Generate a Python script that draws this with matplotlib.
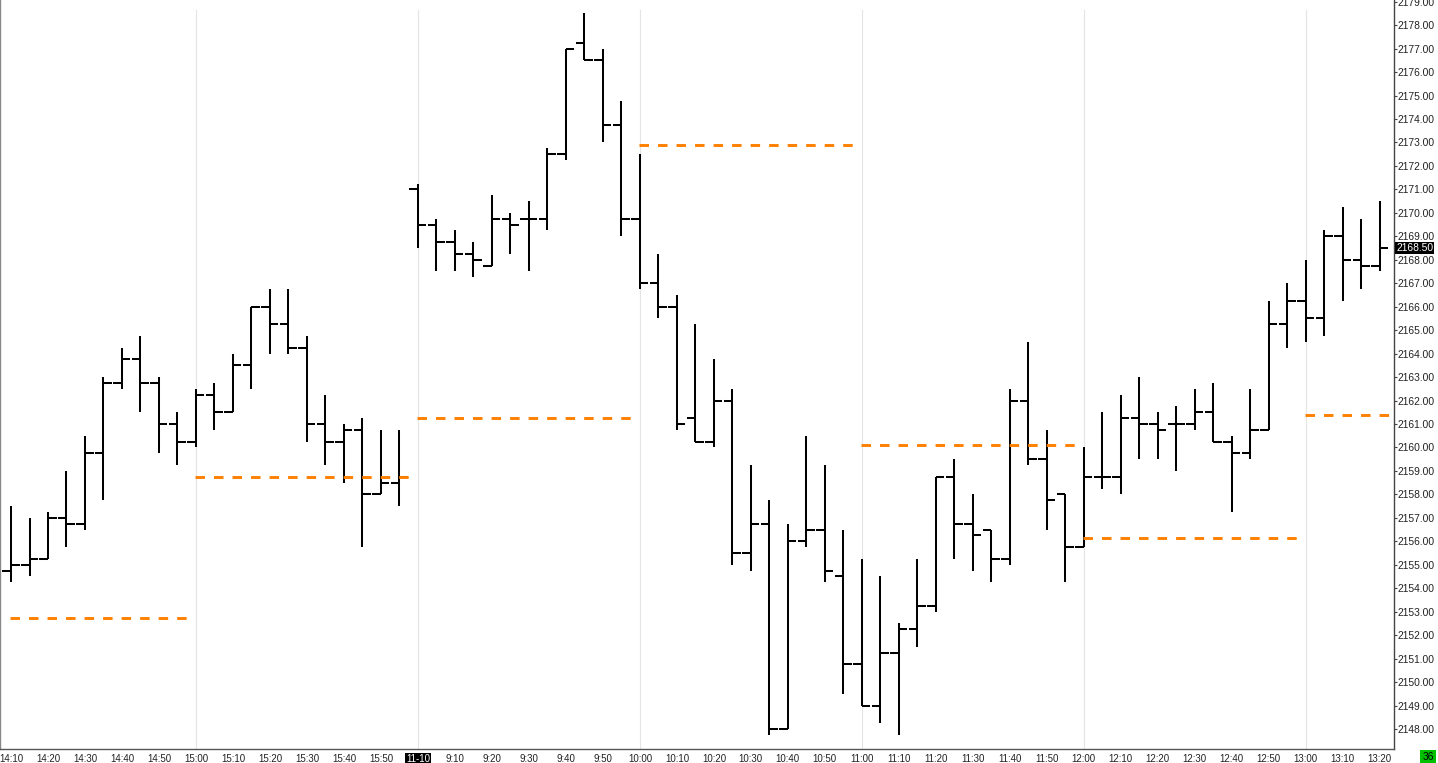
import matplotlib
matplotlib.use("Agg")
import matplotlib.pyplot as plt

plt.rcParams['font.family'] = ['Liberation Sans', 'DejaVu Sans']

# ---- data -------------------------------------------------------------
times = ["14:10", "14:15", "14:20", "14:25", "14:30", "14:35", "14:40", "14:45",
         "14:50", "14:55", "15:00", "15:05", "15:10", "15:15", "15:20", "15:25",
         "15:30", "15:35", "15:40", "15:45", "15:50", "15:55",
         "9:00", "9:05", "9:10", "9:15", "9:20", "9:25", "9:30", "9:35", "9:40",
         "9:45", "9:50", "9:55", "10:00", "10:05", "10:10", "10:15", "10:20",
         "10:25", "10:30", "10:35", "10:40", "10:45", "10:50", "10:55", "11:00",
         "11:05", "11:10", "11:15", "11:20", "11:25", "11:30", "11:35", "11:40",
         "11:45", "11:50", "11:55", "12:00", "12:05", "12:10", "12:15", "12:20",
         "12:25", "12:30", "12:35", "12:40", "12:45", "12:50", "12:55", "13:00",
         "13:05", "13:10", "13:15", "13:20"]

opens = [2154.75, 2155.00, 2155.25, 2157.00, 2156.75, 2159.75, 2162.75, 2163.75,
         2162.75, 2161.00, 2160.25, 2162.25, 2161.50, 2163.50, 2166.00, 2165.25,
         2164.25, 2161.00, 2160.25, 2160.75, 2158.00, 2158.50,
         2171.00, 2169.50, 2168.75, 2168.25, 2167.75, 2169.75, 2169.75, 2169.75,
         2172.50, 2177.25, 2176.50, 2173.75, 2169.75, 2167.00, 2166.00, 2161.25,
         2160.25, 2162.00, 2155.50, 2156.75, 2148.00, 2156.00, 2156.50, 2154.50,
         2150.75, 2149.00, 2151.25, 2152.25, 2153.25, 2158.75, 2156.75, 2156.50,
         2155.25, 2162.00, 2159.50, 2158.00, 2155.75, 2158.75, 2158.75, 2161.25,
         2161.00, 2161.00, 2161.00, 2161.50, 2160.25, 2159.75, 2160.75, 2165.25,
         2166.25, 2165.50, 2169.00, 2168.00, 2167.75]
highs = [2157.50, 2157.00, 2157.25, 2159.00, 2160.50, 2163.00, 2164.25, 2164.75,
         2163.00, 2161.50, 2162.50, 2162.75, 2164.00, 2166.00, 2166.75, 2166.75,
         2164.75, 2162.25, 2161.00, 2161.25, 2160.75, 2160.75,
         2171.25, 2169.75, 2169.25, 2168.75, 2170.75, 2170.00, 2170.50, 2172.75,
         2177.00, 2178.50, 2177.00, 2174.75, 2172.50, 2168.25, 2166.50, 2165.25,
         2163.75, 2162.50, 2159.25, 2157.75, 2156.75, 2160.50, 2159.25, 2156.50,
         2155.25, 2154.50, 2152.50, 2155.25, 2158.75, 2159.50, 2158.00, 2156.50,
         2162.50, 2164.50, 2160.75, 2158.00, 2160.00, 2161.50, 2162.25, 2163.00,
         2161.50, 2161.75, 2162.50, 2162.75, 2160.50, 2162.50, 2166.25, 2167.00,
         2168.00, 2169.25, 2170.25, 2169.75, 2170.50]
lows = [2154.25, 2154.50, 2155.25, 2155.75, 2156.50, 2157.75, 2162.50, 2161.50,
        2159.75, 2159.25, 2160.00, 2160.75, 2161.50, 2162.50, 2164.00, 2164.00,
        2160.25, 2159.25, 2158.50, 2155.75, 2158.00, 2157.50,
        2168.50, 2167.50, 2167.50, 2167.25, 2167.75, 2168.25, 2167.50, 2169.25,
        2172.25, 2176.50, 2173.00, 2169.00, 2166.75, 2165.50, 2160.75, 2160.25,
        2160.00, 2155.00, 2154.75, 2147.75, 2148.00, 2155.75, 2154.25, 2149.50,
        2149.00, 2148.25, 2147.75, 2151.50, 2153.00, 2155.25, 2154.75, 2154.25,
        2155.00, 2159.25, 2156.50, 2154.25, 2155.75, 2158.25, 2158.00, 2159.50,
        2159.50, 2159.00, 2160.75, 2160.25, 2157.25, 2159.50, 2160.75, 2164.25,
        2164.50, 2164.75, 2166.25, 2166.75, 2167.50]
closes = [2155.00, 2155.25, 2157.00, 2156.75, 2159.75, 2162.75, 2163.75, 2162.75,
          2161.00, 2160.25, 2162.25, 2161.50, 2163.50, 2166.00, 2165.25, 2164.25,
          2161.00, 2160.25, 2160.75, 2158.00, 2158.50, 2158.75,
          2169.50, 2168.75, 2168.25, 2168.00, 2169.75, 2169.50, 2169.75, 2172.50,
          2177.00, 2176.50, 2173.75, 2169.75, 2167.00, 2166.00, 2161.00, 2160.25,
          2162.00, 2155.50, 2156.75, 2148.00, 2156.00, 2156.50, 2154.75, 2150.75,
          2149.00, 2151.25, 2152.25, 2153.25, 2158.75, 2156.75, 2156.25, 2155.25,
          2162.00, 2159.50, 2157.75, 2155.75, 2158.75, 2158.75, 2161.25, 2161.00,
          2160.75, 2161.00, 2161.50, 2160.25, 2159.75, 2160.75, 2165.25, 2166.25,
          2165.50, 2169.00, 2168.00, 2167.75, 2168.50]

# hourly reference levels (orange dashed), starting bar time of each segment
level_starts = ["14:10", "15:00", "9:00", "10:00", "11:00", "12:00", "13:00"]
level_values = [2152.75, 2158.75, 2161.25, 2172.875, 2160.125, 2156.125, 2161.375]

tick_labels = ["14:10", "14:20", "14:30", "14:40", "14:50", "15:00", "15:10",
               "15:20", "15:30", "15:40", "15:50", "11-10", "9:10", "9:20",
               "9:30", "9:40", "9:50", "10:00", "10:10", "10:20", "10:30",
               "10:40", "10:50", "11:00", "11:10", "11:20", "11:30", "11:40",
               "11:50", "12:00", "12:10", "12:20", "12:30", "12:40", "12:50",
               "13:00", "13:10", "13:20"]
tick_times = ["14:10", "14:20", "14:30", "14:40", "14:50", "15:00", "15:10",
              "15:20", "15:30", "15:40", "15:50", "9:00", "9:10", "9:20",
              "9:30", "9:40", "9:50", "10:00", "10:10", "10:20", "10:30",
              "10:40", "10:50", "11:00", "11:10", "11:20", "11:30", "11:40",
              "11:50", "12:00", "12:10", "12:20", "12:30", "12:40", "12:50",
              "13:00", "13:10", "13:20"]
grid_times = ["15:00", "9:00", "10:00", "11:00", "12:00", "13:00"]
date_label = "11-10"
last_price = 2168.50
bar_count_label = "36"

# ---- figure -----------------------------------------------------------
W, H = 1438, 763
fig = plt.figure(figsize=(W / 100, H / 100), dpi=100)
ax = fig.add_axes([0, (H - 749) / H, 1394 / W, 749 / H])

x = list(range(len(times)))
pos = {t: i for i, t in enumerate(times)}

ax.set_xlim(-0.595, 74.77)
ax.set_ylim(2147.147, 2179.072)

# vertical session/hour grid lines
for t in grid_times:
    ax.axvline(pos[t], ymin=0, ymax=(749 - 10) / 749, color='#e4e4e4', lw=0.8, zorder=0)

# OHLC bars
bar_lw = 1.45
ax.vlines(x, lows, highs, color='black', lw=bar_lw, zorder=2)
ax.hlines(opens, [i - 0.46 for i in x], x, color='black', lw=bar_lw, zorder=2)
ax.hlines(closes, x, [i + 0.46 for i in x], color='black', lw=bar_lw, zorder=2)

# orange dashed hourly levels
starts = [pos[t] for t in level_starts]
for k, (s, v) in enumerate(zip(starts, level_values)):
    e = starts[k + 1] - 0.45 if k + 1 < len(starts) else len(times) - 0.5
    ax.plot([s - 0.05, e], [v, v], color='#ff8000', lw=2.1,
            dashes=(3.25, 3.1), solid_capstyle='butt', dash_capstyle='butt', zorder=3)

# axes styling
ax.spines['top'].set_visible(False)
ax.spines['right'].set_color('#444444')
ax.spines['right'].set_linewidth(1.0)
ax.spines['bottom'].set_color('#555555')
ax.spines['bottom'].set_linewidth(1.0)
ax.spines['left'].set_color('#888888')
ax.spines['left'].set_linewidth(1.0)

ax.yaxis.tick_right()
yt = [2148 + k for k in range(32)]
ax.set_yticks(yt)
ax.set_yticklabels([f"{v:.2f}" for v in yt])
ax.tick_params(axis='y', which='both', direction='out', length=2, width=0.8,
               color='#444444', labelsize=7.4, labelcolor='#222222', pad=0.8)

ax.set_xticks([pos[t] for t in tick_times])
ax.set_xticklabels(tick_labels)
ax.tick_params(axis='x', length=0, labelsize=7.0, labelcolor='#222222', pad=3.5)
for lbl in ax.get_xticklabels():
    if lbl.get_text() == date_label:
        lbl.set_color('white')
        lbl.set_bbox(dict(boxstyle='square,pad=0.12', fc='black', ec='none'))

# last price marker on the price axis
ax.annotate(f"{last_price:.2f}", xy=(1.0, last_price), xycoords=('axes fraction', 'data'),
            xytext=(1.5, 0), textcoords='offset points', va='center', ha='left',
            fontsize=7.4, color='white',
            bbox=dict(boxstyle='square,pad=0.12', fc='black', ec='none'),
            annotation_clip=False, zorder=5)

# bar counter box bottom right
fig.text(1428 / W, (H - 757) / H, bar_count_label, ha='center', va='center',
         fontsize=7.4, color='black',
         bbox=dict(boxstyle='square,pad=0.2', fc='#00c000', ec='none'))

fig.savefig("out.png", dpi=100, facecolor='white')
